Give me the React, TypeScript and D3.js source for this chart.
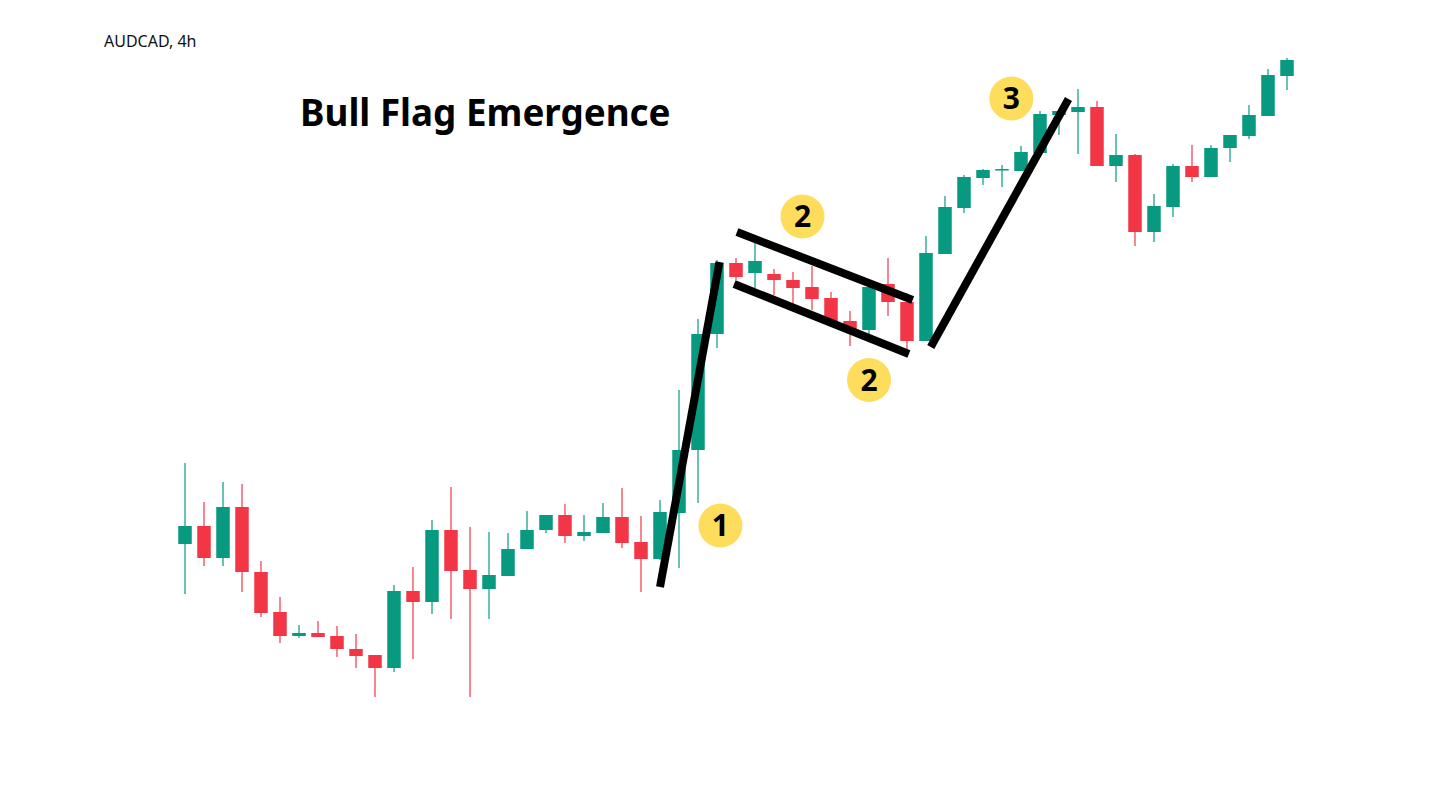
import React from 'react';
import * as d3 from 'd3';

// AUDCAD 4h candles: [open, high, low, close]
const opens = [
  0.8956, 0.8974, 0.8942, 0.8993, 0.8928, 0.8888, 0.8864, 0.8867, 0.8864, 0.8851,
  0.8845, 0.8832, 0.8909, 0.8898, 0.8970, 0.8930, 0.8911, 0.8924, 0.8951, 0.8970,
  0.8985, 0.8964, 0.8967, 0.8983, 0.8958, 0.8941, 0.8987, 0.9050, 0.9166, 0.9237,
  0.9227, 0.9226, 0.9220, 0.9213, 0.9202, 0.9179, 0.9170, 0.9216, 0.9198, 0.9159,
  0.9246, 0.9292, 0.9322, 0.9330, 0.9329, 0.9347, 0.9385, 0.9388, 0.9393, 0.9334,
  0.9345, 0.9268, 0.9293, 0.9334, 0.9323, 0.9352, 0.9364, 0.9384, 0.9424,
];
const highs = [
  0.9037, 0.8998, 0.9018, 0.9016, 0.8939, 0.8903, 0.8875, 0.8879, 0.8874, 0.8866,
  0.8845, 0.8915, 0.8933, 0.8980, 0.9013, 0.8973, 0.8968, 0.8967, 0.8989, 0.8985,
  0.8996, 0.8985, 0.8997, 0.9012, 0.8984, 0.9000, 0.9110, 0.9181, 0.9240, 0.9242,
  0.9258, 0.9231, 0.9228, 0.9234, 0.9208, 0.9189, 0.9217, 0.9242, 0.9207, 0.9264,
  0.9304, 0.9325, 0.9331, 0.9335, 0.9354, 0.9389, 0.9389, 0.9411, 0.9399, 0.9366,
  0.9346, 0.9306, 0.9336, 0.9355, 0.9355, 0.9365, 0.9395, 0.9431, 0.9442,
];
const lows = [
  0.8906, 0.8934, 0.8934, 0.8908, 0.8883, 0.8857, 0.8862, 0.8863, 0.8843, 0.8832,
  0.8803, 0.8828, 0.8841, 0.8886, 0.8881, 0.8803, 0.8881, 0.8924, 0.8951, 0.8967,
  0.8957, 0.8959, 0.8967, 0.8952, 0.8908, 0.8940, 0.8932, 0.8997, 0.9152, 0.9220,
  0.9212, 0.9205, 0.9197, 0.9190, 0.9177, 0.9154, 0.9166, 0.9184, 0.9150, 0.9159,
  0.9246, 0.9287, 0.9315, 0.9313, 0.9329, 0.9347, 0.9365, 0.9346, 0.9334, 0.9318,
  0.9254, 0.9258, 0.9283, 0.9318, 0.9323, 0.9338, 0.9361, 0.9384, 0.9410,
];
const closes = [
  0.8974, 0.8942, 0.8993, 0.8928, 0.8887, 0.8864, 0.8867, 0.8863, 0.8851, 0.8844,
  0.8832, 0.8909, 0.8898, 0.8970, 0.8929, 0.8911, 0.8925, 0.8951, 0.8970, 0.8985,
  0.8964, 0.8968, 0.8983, 0.8957, 0.8941, 0.8988, 0.9050, 0.9166, 0.9237, 0.9223,
  0.9239, 0.9220, 0.9212, 0.9201, 0.9179, 0.9170, 0.9213, 0.9198, 0.9159, 0.9247,
  0.9293, 0.9323, 0.9330, 0.9331, 0.9348, 0.9386, 0.9389, 0.9393, 0.9334, 0.9345,
  0.9268, 0.9294, 0.9334, 0.9323, 0.9352, 0.9365, 0.9385, 0.9425, 0.9440,
];

// hand-drawn trend lines: [index, price] -> [index, price]
const trendLines: [number, number, number, number][] = [
  [25.0, 0.8913, 28.13, 0.9238], // pole
  [29.05, 0.9268, 38.3, 0.9200], // flag top
  [28.9, 0.9216, 38.1, 0.9146], // flag bottom
  [39.25, 0.9153, 46.5, 0.9401], // breakout
];

// numbered markers
const markerLabels = ['1', '2', '2', '3'];
const markerIndex = [28.18, 32.5, 36.0, 43.49];
const markerPrice = [0.89745, 0.92835, 0.912, 0.94015];

const UP = '#089981';
const DOWN = '#F23645';

const App: React.FC = () => {
  const width = 1440;
  const height = 788;

  const x = d3.scaleLinear().domain([0, opens.length - 1]).range([185, 1287]);
  const y = d3.scaleLinear().domain([0.88, 0.94]).range([700, 100]);
  const bodyW = 13.5;

  const candles = opens.map((o, i) => ({
    i,
    o,
    h: highs[i],
    l: lows[i],
    c: closes[i],
  }));

  return (
    <svg
      width={width}
      height={height}
      style={{ position: 'absolute', left: 0, top: 0, background: '#fff' }}
    >
      <text x={104} y={47} fontFamily="'Noto Sans', sans-serif" fontSize={16} fill="#111">
        AUDCAD, 4h
      </text>
      <text
        x={300}
        y={126}
        fontFamily="'Noto Sans', sans-serif"
        fontWeight={700}
        fontSize={36.8}
        fill="#000"
      >
        Bull Flag Emergence
      </text>

      <g>
        {candles.map(d => {
          const col = d.c >= d.o ? UP : DOWN;
          const cx = x(d.i);
          const top = y(Math.max(d.o, d.c));
          const bh = Math.max(1.5, Math.abs(y(d.o) - y(d.c)));
          return (
            <g key={d.i}>
              <line x1={cx} x2={cx} y1={y(d.h)} y2={y(d.l)} stroke={col} strokeWidth={1.2} />
              <rect x={cx - bodyW / 2} y={top} width={bodyW} height={bh} fill={col} />
            </g>
          );
        })}
      </g>

      <g stroke="#000" strokeWidth={8}>
        {trendLines.map((t, k) => (
          <line key={k} x1={x(t[0])} y1={y(t[1])} x2={x(t[2])} y2={y(t[3])} />
        ))}
      </g>

      <g>
        {markerLabels.map((lab, k) => (
          <g key={k} transform={`translate(${x(markerIndex[k])},${y(markerPrice[k])})`}>
            <circle r={22} fill="#FFDD5C" />
            <text
              textAnchor="middle"
              dy="0.36em"
              fontFamily="'Noto Sans', sans-serif"
              fontWeight={700}
              fontSize={30}
              fill="#000"
            >
              {lab}
            </text>
          </g>
        ))}
      </g>
    </svg>
  );
};

export default App;
